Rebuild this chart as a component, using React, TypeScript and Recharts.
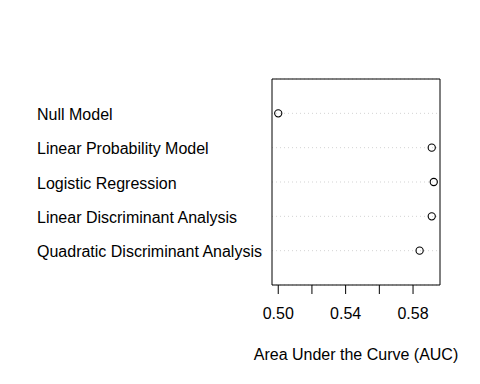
import React from 'react';
import { ScatterChart, Scatter, XAxis, YAxis, CartesianGrid, ReferenceArea, Label } from 'recharts';

const models = [
  'Null Model',
  'Linear Probability Model',
  'Logistic Regression',
  'Linear Discriminant Analysis',
  'Quadratic Discriminant Analysis',
];
const aucValues = [0.5, 0.5911, 0.5923, 0.5911, 0.5839];
const xTicks = [0.5, 0.52, 0.54, 0.56, 0.58];
const xTickLabels = ['0.50', '', '0.54', '', '0.58'];
const rowTicks = [1, 2, 3, 4, 5];

const X_MIN = 0.4963;
const X_MAX = 0.596;

const data = models.map((m, i) => ({ model: m, auc: aucValues[i], row: models.length - i }));

const FONT = '"Liberation Sans", Arial, Helvetica, sans-serif';

const YTick = (props: any) => {
  const { y, payload } = props;
  const name = models[models.length - payload.value];
  return (
    <text x={37} y={y} dy="0.42em" fontSize={16} fontFamily={FONT} fill="#000" textAnchor="start">
      {name}
    </text>
  );
};

const XTick = (props: any) => {
  const { x, y, payload } = props;
  const idx = xTicks.findIndex((t) => Math.abs(t - payload.value) < 1e-9);
  const label = idx >= 0 ? xTickLabels[idx] : '';
  return (
    <text x={x} y={y} dy={25} fontSize={16} fontFamily={FONT} fill="#000" textAnchor="middle">
      {label}
    </text>
  );
};

const Dot = (props: any) => {
  const { cx, cy } = props;
  return <circle cx={cx} cy={cy} r={3.6} fill="none" stroke="#000" strokeWidth={1.1} />;
};

export default function App() {
  return (
    <div style={{ position: 'absolute', left: 0, top: 0, width: 480, height: 384, background: '#fff' }}>
      <ScatterChart width={480} height={384} margin={{ top: 79, right: 40, bottom: 0, left: 37 }}>
        <CartesianGrid
          horizontal={true}
          vertical={false}
          stroke="#d3d3d3"
          strokeDasharray="1 3"
        />
        <XAxis
          type="number"
          dataKey="auc"
          domain={[X_MIN, X_MAX]}
          allowDataOverflow
          ticks={xTicks}
          interval={0}
          height={99}
          axisLine={false}
          tickLine={{ stroke: '#000', strokeWidth: 1 }}
          tickSize={9}
          tickMargin={0}
          tick={<XTick />}
        >
          <Label
            value="Area Under the Curve (AUC)"
            position="insideBottom"
            offset={24}
            style={{ fontSize: 16, fontFamily: FONT, fill: '#000' }}
          />
        </XAxis>
        <YAxis
          type="number"
          dataKey="row"
          domain={[0, 6]}
          ticks={rowTicks}
          interval={0}
          width={235}
          axisLine={false}
          tickLine={false}
          tick={<YTick />}
        />
        <ReferenceArea
          x1={X_MIN}
          x2={X_MAX}
          y1={0}
          y2={6}
          fill="none"
          stroke="#000"
          strokeWidth={1}
          ifOverflow="visible"
        />
        <Scatter data={data} shape={<Dot />} isAnimationActive={false} />
      </ScatterChart>
    </div>
  );
}
